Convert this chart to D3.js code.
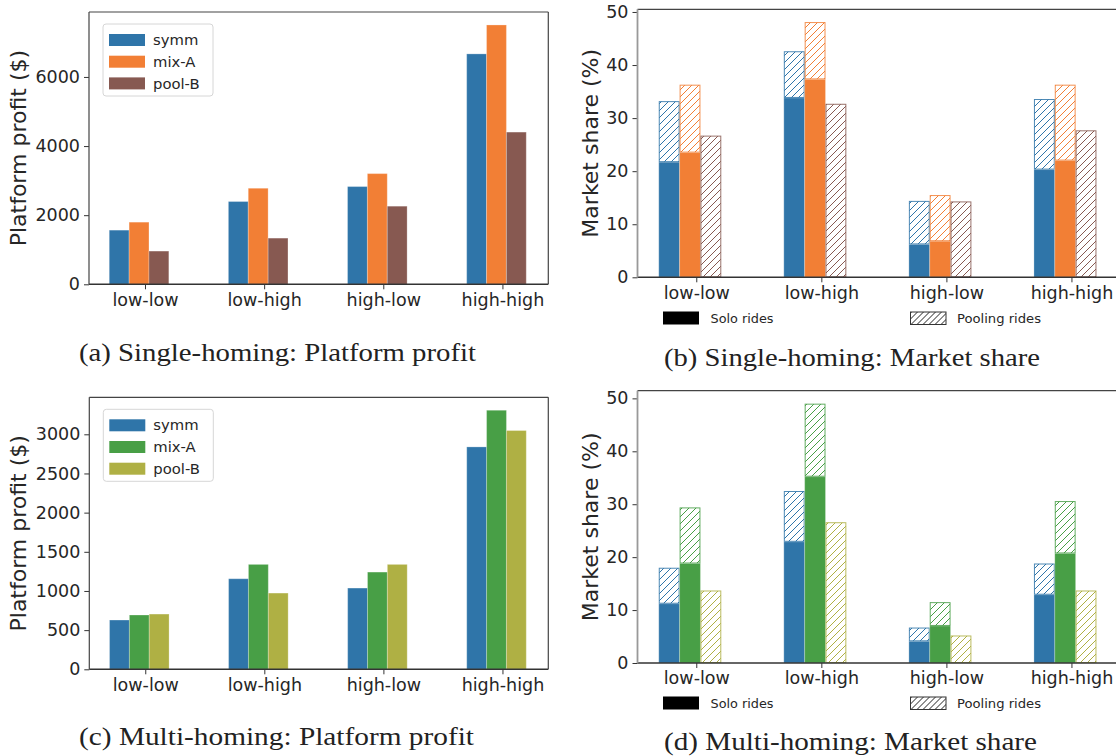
<!DOCTYPE html>
<html>
<head>
<meta charset="utf-8">
<script src="https://cdn.jsdelivr.net/npm/d3@7"></script>
<style>
  body { margin: 0; background: #fff; }
  svg { display: block; }
  .tick text { font-family: "DejaVu Sans", sans-serif; fill: #262626; }
</style>
</head>
<body>
<svg id="fig" width="1116" height="756"></svg>
<script>
// Scenarios on the x axis and the three pricing schemes
const scenarios = ["low-low", "low-high", "high-low", "high-high"];
const schemes = ["symm", "mix-A", "pool-B"];

// (a) Single-homing platform profit ($)
const singleProfitSymm  = [1567, 2395, 2828, 6667];
const singleProfitMixA  = [1798, 2779, 3203, 7504];
const singleProfitPoolB = [961, 1336, 2260, 4404];

// (c) Multi-homing platform profit ($)
const multiProfitSymm  = [629, 1156, 1037, 2839];
const multiProfitMixA  = [693, 1339, 1241, 3307];
const multiProfitPoolB = [705, 973, 1339, 3048];

// (b) Single-homing market share (%): solo rides and pooling rides stacked on top
const singleSoloSymm  = [21.7, 33.8, 6.2, 20.3];
const singlePoolSymm  = [11.5, 8.8, 8.2, 13.3];
const singleSoloMixA  = [23.5, 37.3, 6.8, 22.0];
const singlePoolMixA  = [12.8, 10.8, 8.7, 14.3];
const singleSoloPoolB = [0, 0, 0, 0];
const singlePoolPoolB = [26.7, 32.7, 14.3, 27.7];

// (d) Multi-homing market share (%)
const multiSoloSymm  = [11.2, 22.9, 4.1, 12.9];
const multiPoolSymm  = [6.8, 9.6, 2.6, 5.9];
const multiSoloMixA  = [18.8, 35.2, 7.0, 20.7];
const multiPoolMixA  = [10.6, 13.8, 4.5, 9.9];
const multiSoloPoolB = [0, 0, 0, 0];
const multiPoolPoolB = [13.7, 26.6, 5.2, 13.7];

// Tick values
const singleProfitTicks = [0, 2000, 4000, 6000];
const multiProfitTicks = [0, 500, 1000, 1500, 2000, 2500, 3000];
const shareTicks = [0, 10, 20, 30, 40, 50];

// Captions
const captions = [
  "(a) Single-homing: Platform profit",
  "(b) Single-homing: Market share",
  "(c) Multi-homing: Platform profit",
  "(d) Multi-homing: Market share"
];

const BLUE = "#2f75a9", ORANGE = "#f27f35", BROWN = "#875951",
      GREEN = "#489f46", OLIVE = "#afb044";

const svg = d3.select("#fig");
const defs = svg.append("defs");

function hatch(id, color, step, width) {
  const p = defs.append("pattern")
    .attr("id", id)
    .attr("patternUnits", "userSpaceOnUse")
    .attr("width", step).attr("height", step);
  p.append("rect").attr("width", step).attr("height", step).attr("fill", "#fff");
  p.append("path")
    .attr("d", `M0,${step} L${step},0 M${-step / 2},${step / 2} L${step / 2},${-step / 2} M${step / 2},${step * 1.5} L${step * 1.5},${step / 2}`)
    .attr("stroke", color).attr("stroke-width", width).attr("fill", "none");
  return `url(#${id})`;
}

const hatchFill = {
  [BLUE]: hatch("h-blue", BLUE, 7, 1),
  [ORANGE]: hatch("h-orange", ORANGE, 7, 1),
  [BROWN]: hatch("h-brown", BROWN, 7, 1),
  [GREEN]: hatch("h-green", GREEN, 7, 1),
  [OLIVE]: hatch("h-olive", OLIVE, 7, 1),
  legend: hatch("h-legend", "#222", 6, 1)
};

// Bars sit at left edges i-0.3, i-0.3+w, i-0.3+2w with width w = 1/6
const barW = 1 / 6;
const barStart = -0.3;
const xDomain = [-0.47, 3.385];

function axes(g, x, y, yTicks, box, leftSpineColor) {
  g.append("g")
    .attr("transform", `translate(0,${box.bottom})`)
    .call(d3.axisBottom(x).tickValues([0, 1, 2, 3]).tickFormat(i => scenarios[i])
      .tickSize(5).tickPadding(4))
    .call(s => s.select(".domain").remove())
    .call(s => s.selectAll("text").attr("font-size", 17.5))
    .call(s => s.selectAll("line").attr("stroke", "#333"));
  g.append("g")
    .attr("transform", `translate(${box.left},0)`)
    .call(d3.axisLeft(y).tickValues(yTicks).tickFormat(d3.format("d")).tickSize(5).tickPadding(4))
    .call(s => s.select(".domain").remove())
    .call(s => s.selectAll("text").attr("font-size", 17.5))
    .call(s => s.selectAll("line").attr("stroke", "#333"));
  // frame
  g.append("line").attr("x1", box.left).attr("x2", box.right).attr("y1", box.top).attr("y2", box.top)
    .attr("stroke", "#444").attr("stroke-width", 1.2);
  g.append("line").attr("x1", box.left).attr("x2", box.right).attr("y1", box.bottom).attr("y2", box.bottom)
    .attr("stroke", "#333").attr("stroke-width", 1.4);
  g.append("line").attr("x1", box.right).attr("x2", box.right).attr("y1", box.top).attr("y2", box.bottom)
    .attr("stroke", "#444").attr("stroke-width", 1.2);
  g.append("line").attr("x1", box.left).attr("x2", box.left).attr("y1", box.top).attr("y2", box.bottom)
    .attr("stroke", leftSpineColor).attr("stroke-width", leftSpineColor === "#444" ? 1.2 : 1.8);
}

function yLabel(g, text, xPos, yMid) {
  g.append("text")
    .attr("transform", `translate(${xPos},${yMid}) rotate(-90)`)
    .attr("text-anchor", "middle")
    .attr("font-family", "DejaVu Sans, sans-serif")
    .attr("font-size", 22)
    .attr("fill", "#262626")
    .text(text);
}

function profitPanel(box, values, colors, yTicks, labelX) {
  const g = svg.append("g");
  const x = d3.scaleLinear().domain(xDomain).range([box.left, box.right]);
  const yMax = d3.max(values.flat()) * 1.05;
  const y = d3.scaleLinear().domain([0, yMax]).range([box.bottom, box.top]);

  values.forEach((series, k) => {
    g.selectAll(null).data(series).enter().append("rect")
      .attr("x", (d, i) => x(i + barStart + k * barW))
      .attr("width", x(barW) - x(0))
      .attr("y", d => y(d))
      .attr("height", d => y(0) - y(d))
      .attr("fill", colors[k])
      .attr("stroke", "#fff").attr("stroke-opacity", 0.25).attr("stroke-width", 1);
  });

  axes(g, x, y, yTicks, box, "#444");
  yLabel(g, "Platform profit ($)", labelX, (box.top + box.bottom) / 2);

  // legend
  const lg = g.append("g").attr("transform", `translate(${box.left + 14},${box.top + 12})`);
  lg.append("rect").attr("width", 110).attr("height", 72).attr("rx", 3)
    .attr("fill", "#fff").attr("fill-opacity", 0.85).attr("stroke", "#d6d6d6");
  schemes.forEach((s, k) => {
    const row = lg.append("g").attr("transform", `translate(6,${16 + k * 21.7})`);
    row.append("rect").attr("y", -6).attr("width", 36).attr("height", 12).attr("fill", colors[k]);
    row.append("text").attr("x", 44).attr("dy", "0.35em")
      .attr("font-family", "DejaVu Sans, sans-serif").attr("font-size", 14.8)
      .attr("fill", "#262626").text(s);
  });
}

function sharePanel(box, solo, pool, colors, labelX, legendY) {
  const g = svg.append("g");
  const x = d3.scaleLinear().domain(xDomain).range([box.left, box.right]);
  const totals = solo.map((s, k) => s.map((v, i) => v + pool[k][i]));
  const yMax = d3.max(totals.flat()) * 1.05;
  const y = d3.scaleLinear().domain([0, yMax]).range([box.bottom, box.top]);
  const bw = x(barW) - x(0);

  colors.forEach((c, k) => {
    // solo rides: solid
    g.selectAll(null).data(solo[k]).enter().filter(d => d > 0).append("rect")
      .attr("x", (d, i) => x(i + barStart + k * barW))
      .attr("width", bw)
      .attr("y", d => y(d))
      .attr("height", d => y(0) - y(d))
      .attr("fill", c)
      .attr("stroke", "#fff").attr("stroke-opacity", 0.25).attr("stroke-width", 1);
    // pooling rides: hatched, stacked on solo
    g.selectAll(null).data(pool[k]).enter().append("rect")
      .attr("x", (d, i) => x(i + barStart + k * barW) + 0.5)
      .attr("width", bw - 1)
      .attr("y", (d, i) => y(solo[k][i] + d) + 0.5)
      .attr("height", (d, i) => y(solo[k][i]) - y(solo[k][i] + d) - 1)
      .attr("fill", hatchFill[c])
      .attr("stroke", c).attr("stroke-opacity", 0.85).attr("stroke-width", 1);
  });

  axes(g, x, y, shareTicks, box, "#999");
  yLabel(g, "Market share (%)", labelX, (box.top + box.bottom) / 2);

  // ride-type legend under the axis
  const lg = g.append("g").attr("transform", `translate(0,${legendY})`);
  lg.append("rect").attr("x", 663).attr("y", 0).attr("width", 36).attr("height", 13).attr("fill", "#000");
  lg.append("text").attr("x", 710.5).attr("y", 6.5).attr("dy", "0.35em")
    .attr("font-family", "DejaVu Sans, sans-serif").attr("font-size", 13)
    .attr("textLength", 63).attr("lengthAdjust", "spacingAndGlyphs")
    .attr("fill", "#262626").text("Solo rides");
  lg.append("rect").attr("x", 910.5).attr("y", 0.5).attr("width", 35.5).attr("height", 12.5)
    .attr("fill", hatchFill.legend).attr("stroke", "#333").attr("stroke-width", 1);
  lg.append("text").attr("x", 957).attr("y", 7).attr("dy", "0.35em")
    .attr("font-family", "DejaVu Sans, sans-serif").attr("font-size", 13)
    .attr("textLength", 84).attr("lengthAdjust", "spacingAndGlyphs")
    .attr("fill", "#262626").text("Pooling rides");
}

// (a)
profitPanel({ left: 89, right: 548.3, top: 12, bottom: 284.3 },
  [singleProfitSymm, singleProfitMixA, singleProfitPoolB],
  [BLUE, ORANGE, BROWN], singleProfitTicks, 26);

// (c)
profitPanel({ left: 89.3, right: 548.3, top: 397.3, bottom: 669.3 },
  [multiProfitSymm, multiProfitMixA, multiProfitPoolB],
  [BLUE, GREEN, OLIVE], multiProfitTicks, 26);

// (b)
sharePanel({ left: 637.5, right: 1119.6, top: 9.3, bottom: 277.3 },
  [singleSoloSymm, singleSoloMixA, singleSoloPoolB],
  [singlePoolSymm, singlePoolMixA, singlePoolPoolB],
  [BLUE, ORANGE, BROWN], 598, 311.5);

// (d)
sharePanel({ left: 637.5, right: 1119.6, top: 390.7, bottom: 663 },
  [multiSoloSymm, multiSoloMixA, multiSoloPoolB],
  [multiPoolSymm, multiPoolMixA, multiPoolPoolB],
  [BLUE, GREEN, OLIVE], 598, 696.5);

// captions
const capPos = [
  { x: 79, y: 361, w: 397 },
  { x: 664, y: 366, w: 376 },
  { x: 79, y: 745, w: 395 },
  { x: 664, y: 750, w: 373 }
];
svg.selectAll("text.caption").data(captions).enter().append("text")
  .attr("class", "caption")
  .attr("x", (d, i) => capPos[i].x)
  .attr("y", (d, i) => capPos[i].y)
  .attr("textLength", (d, i) => capPos[i].w)
  .attr("lengthAdjust", "spacingAndGlyphs")
  .attr("font-family", "Liberation Serif, serif")
  .attr("font-size", 25)
  .attr("fill", "#222")
  .text(d => d);
</script>
</body>
</html>
